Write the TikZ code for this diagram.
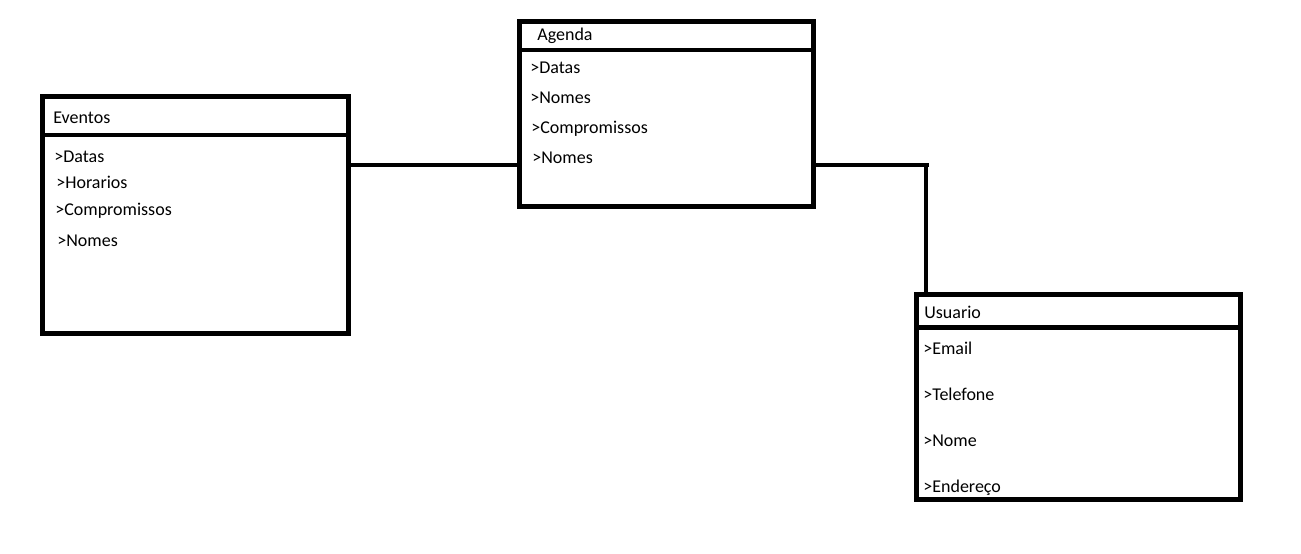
\documentclass[tikz,border=0pt]{standalone}
\usepackage{fontspec}
\setmainfont{Carlito}
\usetikzlibrary{calc}

\begin{document}
\begin{tikzpicture}[x=1pt, y=-1pt, line width=4.7pt,
  box/.style={draw, inner sep=0, outer sep=0},
  field/.style={anchor=base west, inner sep=0, font=\fontsize{18}{20}\selectfont},
  link/.style={draw, line join=miter}]
\useasboundingbox (0,0) rectangle (1301,554);
\node[box, minimum width=306, minimum height=237] (eventos) at (195.5,215) {};
\node[box, minimum width=294, minimum height=185] (agenda) at (666.5,114) {};
\node[box, minimum width=324, minimum height=205] (usuario) at (1078.5,397) {};
\draw ($(eventos.north west)+(0,38.5)$) -- ($(eventos.north east)+(0,38.5)$);
\draw ($(agenda.north west)+(0,28.5)$) -- ($(agenda.north east)+(0,28.5)$);
\draw ($(usuario.north west)+(0,33)$) -- ($(usuario.north east)+(0,33)$);
% connectors
\coordinate (bend) at (926,165);
\draw[link] (eventos.east |- bend) -- (agenda.west |- bend);
\draw[link] (agenda.east |- bend) -- ($(bend)+(3,0)$);
\draw[link] ($(bend)+(0,-2)$) -- (usuario.north -| bend);
% Eventos
\node[field] (ev-title) at (51,123) {Eventos};
\node[field] (ev-datas) at (52,162) {>Datas};
\node[field] (ev-horarios) at (54,188) {>Horarios};
\node[field] (ev-comp) at (53,215) {>Compromissos};
\node[field] (ev-nomes) at (55,246) {>Nomes};
% Agenda
\node[field] (ag-title) at (535,40) {Agenda};
\node[field] (ag-datas) at (528,73) {>Datas};
\node[field] (ag-nomes) at (528,103) {>Nomes};
\node[field] (ag-comp) at (529,133) {>Compromissos};
\node[field] (ag-nomes2) at (530,163) {>Nomes};
% Usuario
\node[field] (us-title) at (922,318) {Usuario};
\node[field] (us-email) at (921,354) {>Email};
\node[field] (us-tel) at (921,400) {>Telefone};
\node[field] (us-nome) at (921,446) {>Nome};
\node[field] (us-end) at (921,492) {>Endereço};
\end{tikzpicture}
\end{document}
